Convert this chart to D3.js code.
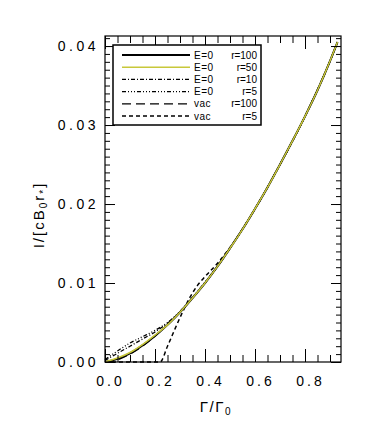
<!DOCTYPE html>
<html>
<head>
<meta charset="utf-8">
<script src="https://cdn.jsdelivr.net/npm/d3@7"></script>
<style>
  html, body { margin: 0; padding: 0; background: #fff; }
  svg { display: block; }
  text { font-family: "Liberation Sans", Arial, Helvetica, sans-serif; fill: #000; }
</style>
</head>
<body>
<svg id="chart" width="374" height="436"></svg>
<script>
// ---------------- data ----------------
const gammaMain = [0, 0.05, 0.10, 0.15, 0.20, 0.25, 0.30, 0.35, 0.40, 0.45, 0.50, 0.55, 0.60, 0.65, 0.70, 0.75, 0.80, 0.85, 0.90, 0.93];
const e0r100 = [0, 0.0004, 0.0011, 0.0021, 0.0033, 0.0047, 0.0063, 0.0081, 0.0100, 0.0121, 0.0144, 0.0168, 0.0194, 0.0221, 0.0250, 0.0280, 0.0311, 0.0344, 0.0381, 0.0405];
const e0r50  = [0, 0.0005, 0.0012, 0.0022, 0.0034, 0.0047, 0.0063, 0.0081, 0.0100, 0.0121, 0.0144, 0.0168, 0.0194, 0.0221, 0.0250, 0.0280, 0.0311, 0.0344, 0.0381, 0.0405];
const gammaE0r10 = [0, 0.05, 0.10, 0.15, 0.20, 0.25, 0.30, 0.35, 0.40, 0.50, 0.60, 0.70, 0.80, 0.90, 0.93];
const e0r10 = [0.0002, 0.0011, 0.0020, 0.0029, 0.0038, 0.0049, 0.0063, 0.0081, 0.0100, 0.0144, 0.0194, 0.0250, 0.0311, 0.0381, 0.0405];
const gammaE0r5 = [0, 0.05, 0.10, 0.15, 0.20, 0.25, 0.30, 0.35, 0.40, 0.50, 0.60, 0.70, 0.80, 0.90, 0.93];
const e0r5 = [0.0003, 0.0014, 0.0024, 0.0032, 0.0040, 0.0050, 0.0064, 0.0082, 0.0101, 0.0144, 0.0194, 0.0250, 0.0311, 0.0381, 0.0405];
const gammaVac100 = [0, 0.03, 0.06, 0.10, 0.15, 0.20, 0.25, 0.30, 0.35, 0.40, 0.50, 0.60, 0.70, 0.80, 0.90, 0.93];
const vacR100 = [0, 0.0001, 0.0004, 0.0010, 0.0020, 0.0033, 0.0047, 0.0063, 0.0081, 0.0100, 0.0144, 0.0194, 0.0250, 0.0311, 0.0381, 0.0405];
const gammaVac5 = [0, 0.05, 0.10, 0.15, 0.20, 0.22, 0.25, 0.28, 0.31, 0.34, 0.37, 0.40, 0.45, 0.50, 0.60, 0.70, 0.80, 0.90, 0.93];
const vacR5 = [0, 0, 0, 0, 0, 0, 0.0020, 0.0042, 0.0063, 0.0082, 0.0097, 0.0108, 0.0125, 0.0145, 0.0194, 0.0250, 0.0311, 0.0381, 0.0405];

const legendLeft  = ["E=0", "E=0", "E=0", "E=0", "vac", "vac"];
const legendRight = ["r=100", "r=50", "r=10", "r=5", "r=100", "r=5"];

const xMajorTicks = [0.0, 0.2, 0.4, 0.6, 0.8];
const yMajorTicks = [0.00, 0.01, 0.02, 0.03, 0.04];

// ---------------- layout ----------------
const svg = d3.select("#chart");
const L = 105, R = 341, T = 36, B = 362;
const x = d3.scaleLinear().domain([0, 0.944]).range([L, R]);
const y = d3.scaleLinear().domain([0, 0.04127]).range([B, T]);

const series = [
  { g: gammaMain,   v: e0r100, color: "#000",    width: 2.0, dash: null },
  { g: gammaMain,   v: e0r50,  color: "#c8c83a", width: 1.5, dash: null },
  { g: gammaE0r10,  v: e0r10,  color: "#000",    width: 1.3, dash: "4,2,1,2" },
  { g: gammaE0r5,   v: e0r5,   color: "#000",    width: 1.3, dash: "4,2,1,2,1,2,1,2" },
  { g: gammaVac100, v: vacR100,color: "#000",    width: 1.3, dash: "9,5" },
  { g: gammaVac5,   v: vacR5,  color: "#000",    width: 1.5, dash: "4,3" }
];

const line = d3.line().x(d => x(d[0])).y(d => y(d[1])).curve(d3.curveMonotoneX);

const drawOrder = [0, 4, 5, 2, 3, 1];
drawOrder.forEach(i => {
  const s = series[i];
  svg.append("path")
    .datum(s.g.map((g, k) => [g, s.v[k]]))
    .attr("d", line)
    .attr("fill", "none")
    .attr("stroke", s.color)
    .attr("stroke-width", s.width)
    .attr("stroke-dasharray", s.dash);
});

// ---------------- axes ----------------
const xMinor = d3.range(0, 0.9451, 0.05);
const yMinor = d3.range(0, 0.04127, 0.001);

function tickAxis(axisFn, scale, values, size, transform) {
  const g = svg.append("g").attr("transform", transform)
    .call(axisFn(scale).tickValues(values).tickSize(size).tickFormat(""));
  g.select(".domain").remove();
  g.selectAll(".tick line").attr("stroke", "#000").attr("stroke-width", 1);
  return g;
}
tickAxis(d3.axisBottom, x, xMinor, -7, `translate(0,${B})`);
tickAxis(d3.axisBottom, x, xMajorTicks, -13, `translate(0,${B})`);
tickAxis(d3.axisTop, x, xMinor, -7, `translate(0,${T})`);
tickAxis(d3.axisTop, x, xMajorTicks, -13, `translate(0,${T})`);
tickAxis(d3.axisLeft, y, yMinor, -5, `translate(${L},0)`);
tickAxis(d3.axisLeft, y, yMajorTicks, -10, `translate(${L},0)`);
tickAxis(d3.axisRight, y, yMinor, -5, `translate(${R},0)`);
tickAxis(d3.axisRight, y, yMajorTicks, -10, `translate(${R},0)`);

svg.append("rect").attr("x", L).attr("y", T).attr("width", R - L).attr("height", B - T)
  .attr("fill", "none").attr("stroke", "#000").attr("stroke-width", 1.2);

// tick labels
const xl = svg.append("g").attr("transform", `translate(0,${B})`)
  .call(d3.axisBottom(x).tickValues(xMajorTicks).tickSize(0).tickPadding(14).tickFormat(d3.format(".1f")));
xl.select(".domain").remove();
xl.selectAll("text").attr("font-size", 14).attr("dx", 5).style("letter-spacing", "3px")
  .style("font-family", '"Liberation Sans", Arial, sans-serif');

const yl = svg.append("g").attr("transform", `translate(${L},0)`)
  .call(d3.axisLeft(y).tickValues(yMajorTicks).tickSize(0).tickPadding(6).tickFormat(d3.format(".2f")));
yl.select(".domain").remove();
yl.selectAll("text").attr("font-size", 14).style("letter-spacing", "3.5px")
  .style("font-family", '"Liberation Sans", Arial, sans-serif');

// axis titles
const xt = svg.append("text").attr("x", 216).attr("y", 412).attr("text-anchor", "middle")
  .attr("font-size", 15).style("letter-spacing", "1.5px");
xt.append("tspan").text("Γ/Γ");
xt.append("tspan").attr("font-size", 10).attr("dy", 3).text("0");

const yt = svg.append("text").attr("transform", "translate(44,215) rotate(-90)")
  .attr("text-anchor", "middle").attr("font-size", 15).style("letter-spacing", "2px");
yt.append("tspan").text("I/[cB");
yt.append("tspan").attr("font-size", 10).attr("dy", 3).text("0");
yt.append("tspan").attr("dy", -3).text("r");
yt.append("tspan").attr("font-size", 10).attr("dy", 3).text("*");
yt.append("tspan").attr("dy", -3).text("]");

// ---------------- legend ----------------
const lg = svg.append("g");
lg.append("rect").attr("x", 113).attr("y", 45).attr("width", 148).attr("height", 80)
  .attr("fill", "#fff").attr("stroke", "#000").attr("stroke-width", 1.5);
const rowY = d3.scaleLinear().domain([0, 5]).range([55, 116]);
series.forEach((s, i) => {
  const yy = rowY(i);
  lg.append("line").attr("x1", 122).attr("x2", 190).attr("y1", yy).attr("y2", yy)
    .attr("stroke", s.color).attr("stroke-width", s.width).attr("stroke-dasharray", s.dash);
  lg.append("text").attr("x", 194).attr("y", yy + 3.5).attr("font-size", 10)
    .style("letter-spacing", "0.5px").text(legendLeft[i]);
  lg.append("text").attr("x", 257).attr("y", yy + 3.5).attr("font-size", 10)
    .attr("text-anchor", "end").text(legendRight[i]);
});
</script>
</body>
</html>
